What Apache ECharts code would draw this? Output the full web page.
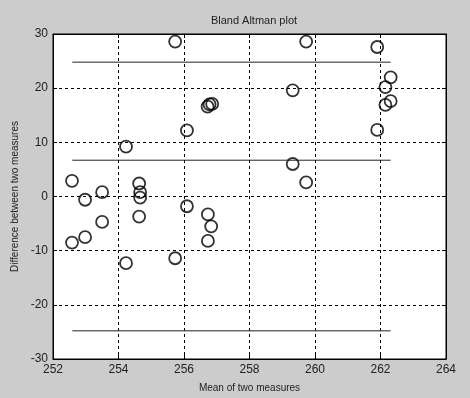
<!DOCTYPE html>
<html>
<head>
<meta charset="utf-8">
<script src="https://cdn.jsdelivr.net/npm/echarts@6/dist/echarts.min.js"></script>
<style>html,body{margin:0;padding:0;background:#cccccc;}#chart{width:470px;height:398px;}</style>
</head>
<body>
<div id="chart"></div>
<script>
// Data
var meanValues = [252.58, 252.58, 252.98, 252.98, 253.5, 253.5, 254.23, 254.23,
  254.63, 254.66, 254.66, 254.63, 255.73, 255.73, 256.09, 256.09,
  256.72, 256.78, 256.86, 256.73, 256.73, 256.83,
  259.32, 259.32, 259.73, 259.73, 261.9, 261.9, 262.15, 262.15, 262.31, 262.31];
var diffValues = [2.9, -8.5, -0.6, -7.5, 0.8, -4.7, 9.2, -12.3,
  2.4, 0.8, -0.2, -3.7, 28.6, -11.4, 12.2, -1.8,
  16.6, 17.0, 17.1, -3.3, -8.2, -5.5,
  19.6, 6.0, 28.6, 2.6, 27.6, 12.3, 20.2, 16.9, 22.0, 17.6];
var limitRange = [252.59, 262.31];
var upperLimit = 24.8;
var meanDiff = 6.7;
var lowerLimit = -24.8;
var xTicks = [252, 254, 256, 258, 260, 262, 264];
var yTicks = [-30, -20, -10, 0, 10, 20, 30];

var points = meanValues.map(function (m, i) { return [m, diffValues[i]]; });
function hline(v) { return [[limitRange[0], v], [limitRange[1], v]]; }

var font = 'Liberation Sans, Arial, sans-serif';
var chart = echarts.init(document.getElementById('chart'));
var baseX = {
  type: 'value', min: xTicks[0], max: xTicks[xTicks.length - 1], interval: 2,
  axisLine: { show: true, onZero: false, lineStyle: { color: '#000', width: 1 } },
  axisTick: { show: true, inside: true, length: 4, lineStyle: { color: '#000' } }
};
var baseY = {
  type: 'value', min: yTicks[0], max: yTicks[yTicks.length - 1], interval: 10,
  axisLine: { show: true, onZero: false, lineStyle: { color: '#000', width: 1 } },
  axisTick: { show: true, inside: true, length: 4, lineStyle: { color: '#000' } }
};
var lineStyleLoA = { color: '#222', width: 1 };
chart.setOption({
  backgroundColor: '#cccccc',
  animation: false,
  title: {
    text: 'Bland Altman plot', left: 249, top: 10, textAlign: 'center',
    textStyle: { fontFamily: font, fontSize: 11, fontWeight: 'normal', color: '#222' }
  },
  grid: { left: 53, right: 24, top: 34, bottom: 38, show: true, backgroundColor: '#ffffff', borderColor: '#000', borderWidth: 1 },
  xAxis: [
    Object.assign({}, baseX, {
      position: 'bottom',
      name: 'Mean of two measures', nameLocation: 'middle', nameGap: 24,
      nameTextStyle: { fontFamily: font, fontSize: 10, color: '#222' },
      axisLabel: { show: true, margin: 5, fontFamily: font, fontSize: 12, color: '#222' },
      splitLine: { show: true, lineStyle: { color: '#000', type: [3, 3], width: 1 } }
    }),
    Object.assign({}, baseX, { position: 'top', axisLabel: { show: false }, splitLine: { show: false } })
  ],
  yAxis: [
    Object.assign({}, baseY, {
      position: 'left',
      name: 'Difference between two measures', nameLocation: 'middle', nameGap: 26,
      nameTextStyle: { fontFamily: font, fontSize: 10, color: '#222' },
      axisLabel: { show: true, margin: 5, fontFamily: font, fontSize: 12, color: '#222' },
      splitLine: { show: true, lineStyle: { color: '#000', type: [3, 3], width: 1 } }
    }),
    Object.assign({}, baseY, { position: 'right', axisLabel: { show: false }, splitLine: { show: false } })
  ],
  series: [
    { type: 'line', data: hline(upperLimit), symbol: 'none', lineStyle: lineStyleLoA, silent: true },
    { type: 'line', data: hline(meanDiff), symbol: 'none', lineStyle: lineStyleLoA, silent: true },
    { type: 'line', data: hline(lowerLimit), symbol: 'none', lineStyle: lineStyleLoA, silent: true },
    {
      type: 'scatter', data: points, symbol: 'circle', symbolSize: 12,
      itemStyle: { color: 'rgba(0,0,0,0)', borderColor: '#000', borderWidth: 1.8 }
    }
  ]
});
</script>
</body>
</html>
